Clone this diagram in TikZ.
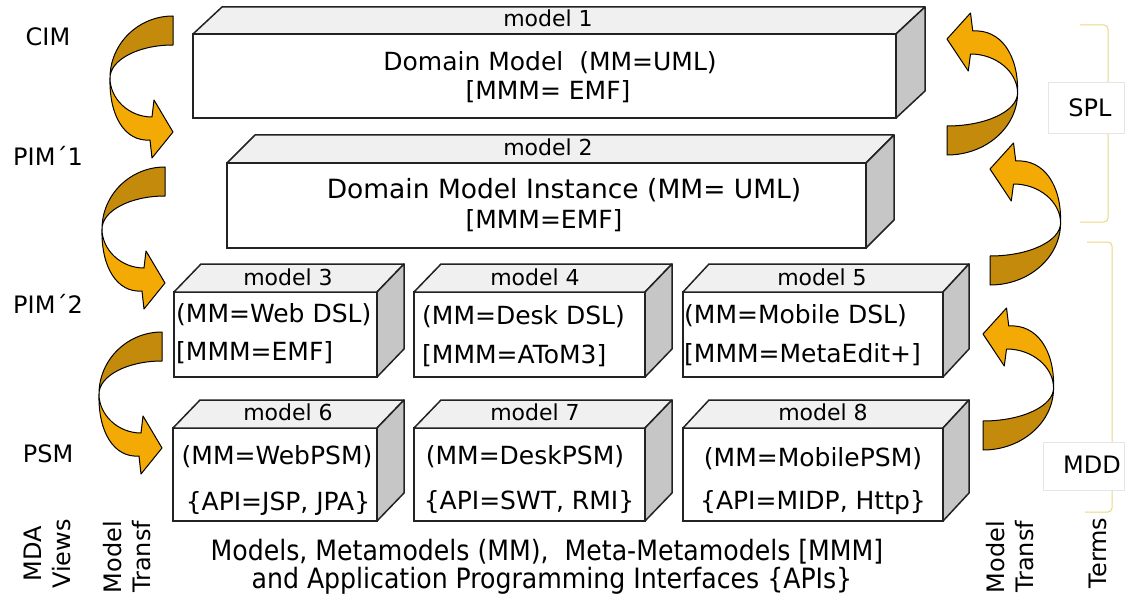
\documentclass[tikz,border=0pt]{standalone}
\usepackage{fontspec}
\setmainfont{DejaVu Sans}
\newfontfamily\condfont{DejaVu Sans Condensed}
\usetikzlibrary{fit}

\definecolor{curldark}{RGB}{196,138,12}
\definecolor{curllight}{RGB}{244,170,4}
\definecolor{topgray}{RGB}{240,240,240}
\definecolor{sidegray}{RGB}{198,198,198}
\definecolor{edgecol}{RGB}{34,34,34}
\definecolor{bracecol}{RGB}{236,214,130}
\definecolor{termedge}{RGB}{230,230,230}

\tikzset{
  front/.style={draw=edgecol, line width=1.5pt, fill=white, inner sep=0pt, outer sep=0pt},
  topface/.style={draw=edgecol, line width=1.5pt, fill=topgray, line join=round},
  sideface/.style={draw=edgecol, line width=1.5pt, fill=sidegray, line join=round},
  lbl/.style={font=\fontsize{24}{29}\selectfont, inner sep=0pt, anchor=base},
  txt/.style={font=\fontsize{25}{30}\selectfont, inner sep=0pt, anchor=base},
  txtl/.style={txt, anchor=base west},
  mdl/.style={font=\fontsize{22}{26}\selectfont, inner sep=0pt, anchor=base},
  vlbl/.style={font=\fontsize{24}{29}\selectfont, inner sep=0pt, align=center, rotate=90},
  bottomtxt/.style={font=\condfont\fontsize{28}{33}\selectfont, inner sep=0pt, anchor=base},
  bracket/.style={draw=bracecol, line width=1pt, rounded corners=4pt},
  termbox/.style={draw=termedge, line width=0.8pt, fill=white, inner sep=0pt, outer sep=0pt},
  curl/.pic={
    % back side of the ribbon, from the tail to the turning point
    \filldraw[fill=curldark, draw=black, line width=1pt, line join=round]
      (0,0) .. controls (-35,0) and (-63,28) .. (-63,62)
      .. controls (-63,44) and (-35,29) .. (0,29) -- cycle;
    % front side of the ribbon with the arrow head
    \filldraw[fill=curllight, draw=black, line width=1pt, line join=round]
      (-63,62) .. controls (-63,83) and (-44,101) .. (-21,101)
      -- (-19,84) -- (0,116) -- (-21,142) -- (-23,124)
      .. controls (-48,126) and (-64,100) .. (-63,62) -- cycle;
  }
}

% a box drawn in perspective: front face node plus top and side faces
\newcommand{\solidbox}[5]{%
  \node[front, fit={#2 #3}] (#1) {};
  \filldraw[topface] (#1.north west) -- ++(#4,-#5)
    -- ([shift={(#4,-#5)}]#1.north east) -- (#1.north east) -- cycle;
  \filldraw[sideface] (#1.north east) -- ++(#4,-#5)
    -- ([shift={(#4,-#5)}]#1.south east) -- (#1.south east) -- cycle;
}

\begin{document}
\begin{tikzpicture}[x=1pt, y=-1pt]
\fill[white] (0,0) rectangle (1125,599);
\useasboundingbox (0,0) rectangle (1125,599);

% ---- models ----
\solidbox{box1}{(193,34)}{(896,118)}{29}{27}
\solidbox{box2}{(227,163)}{(866,248)}{28}{28}
\solidbox{box3}{(174,292)}{(377,377)}{27}{28}
\solidbox{box4}{(414,292)}{(645,377)}{27}{28}
\solidbox{box5}{(683,292)}{(943,377)}{26}{28}
\solidbox{box6}{(173,428)}{(377,521)}{27}{28}
\solidbox{box7}{(414,428)}{(645,521)}{27}{28}
\solidbox{box8}{(683,428)}{(943,521)}{26}{28}

\node[mdl] (m1) at (548,27) {model 1};
\node[mdl] (m2) at (548,156) {model 2};
\node[mdl] (m3) at (288,285) {model 3};
\node[mdl] (m4) at (535,285) {model 4};
\node[mdl] (m5) at (822,285) {model 5};
\node[mdl] (m6) at (288,420) {model 6};
\node[mdl] (m7) at (535,420) {model 7};
\node[mdl] (m8) at (823,420) {model 8};

\node[txt] (t1a) at (550,71) {Domain Model\ \ (MM=UML)};
\node[txt] (t1b) at (548,100) {[MMM= EMF]};
\node[txt, font=\fontsize{26.5}{31}\selectfont] (t2a) at (564,198) {Domain Model Instance (MM= UML)};
\node[txt] (t2b) at (544,228) {[MMM=EMF]};

\node[txtl] (t3a) at (176,322) {(MM=Web DSL)};
\node[txtl] (t3b) at (176,360) {[MMM=EMF]};
\node[txtl] (t4a) at (422,324) {(MM=Desk DSL)};
\node[txtl] (t4b) at (422,363) {[MMM=AToM3]};
\node[txtl] (t5a) at (684,323) {(MM=Mobile DSL)};
\node[txtl] (t5b) at (684,362) {[MMM=MetaEdit+]};

\node[txt] (t6a) at (277,464) {(MM=WebPSM)};
\node[txt] (t6b) at (278,510) {\{API=JSP, JPA\}};
\node[txt] (t7a) at (525,464) {(MM=DeskPSM)};
\node[txt] (t7b) at (529,509) {\{API=SWT, RMI\}};
\node[txt] (t8a) at (813,466) {(MM=MobilePSM)};
\node[txt] (t8b) at (813,509) {\{API=MIDP, Http\}};

% ---- view names ----
\node[lbl] (cim) at (48,46) {CIM};
\node[lbl] (pim1) at (48,165) {PIM´1};
\node[lbl] (pim2) at (48,313) {PIM´2};
\node[lbl] (psm) at (48,462) {PSM};

% ---- transformation arrows ----
\pic at (173,16) {curl};
\pic at (165,167) {curl};
\pic at (162,332) {curl};
\pic[rotate=180, xscale=1.12] at (947,155) {curl};
\pic[rotate=180, xscale=1.12] at (990,285) {curl};
\pic[rotate=180, xscale=1.12] at (983,450) {curl};

% ---- terms ----
\draw[bracket] (1080,25) -- (1108,25) -- (1108,222) -- (1080,222);
\draw[bracket] (1087,242) -- (1112,242) -- (1112,512) -- (1085,512);
\node[termbox, fit={(1048,82) (1124,133)}] (splbox) {};
\node[lbl] (spl) at (1090,117) {SPL};
\node[termbox, fit={(1043,442) (1124,490)}] (mddbox) {};
\node[lbl] (mdd) at (1092,473) {MDD};

% ---- column captions ----
\node[vlbl] (views) at (47,554) {MDA\\Views};
\node[vlbl] (transfl) at (127,557) {Model\\Transf};
\node[vlbl] (transfr) at (1010,557) {Model\\Transf};
\node[vlbl] (terms) at (1098,553) {Terms};

\node[bottomtxt] (capa) at (547,560) {Models, Metamodels (MM),\ \ Meta-Metamodels [MMM]};
\node[bottomtxt] (capb) at (552,588) {and Application Programming Interfaces \{APIs\}};
\end{tikzpicture}
\end{document}
